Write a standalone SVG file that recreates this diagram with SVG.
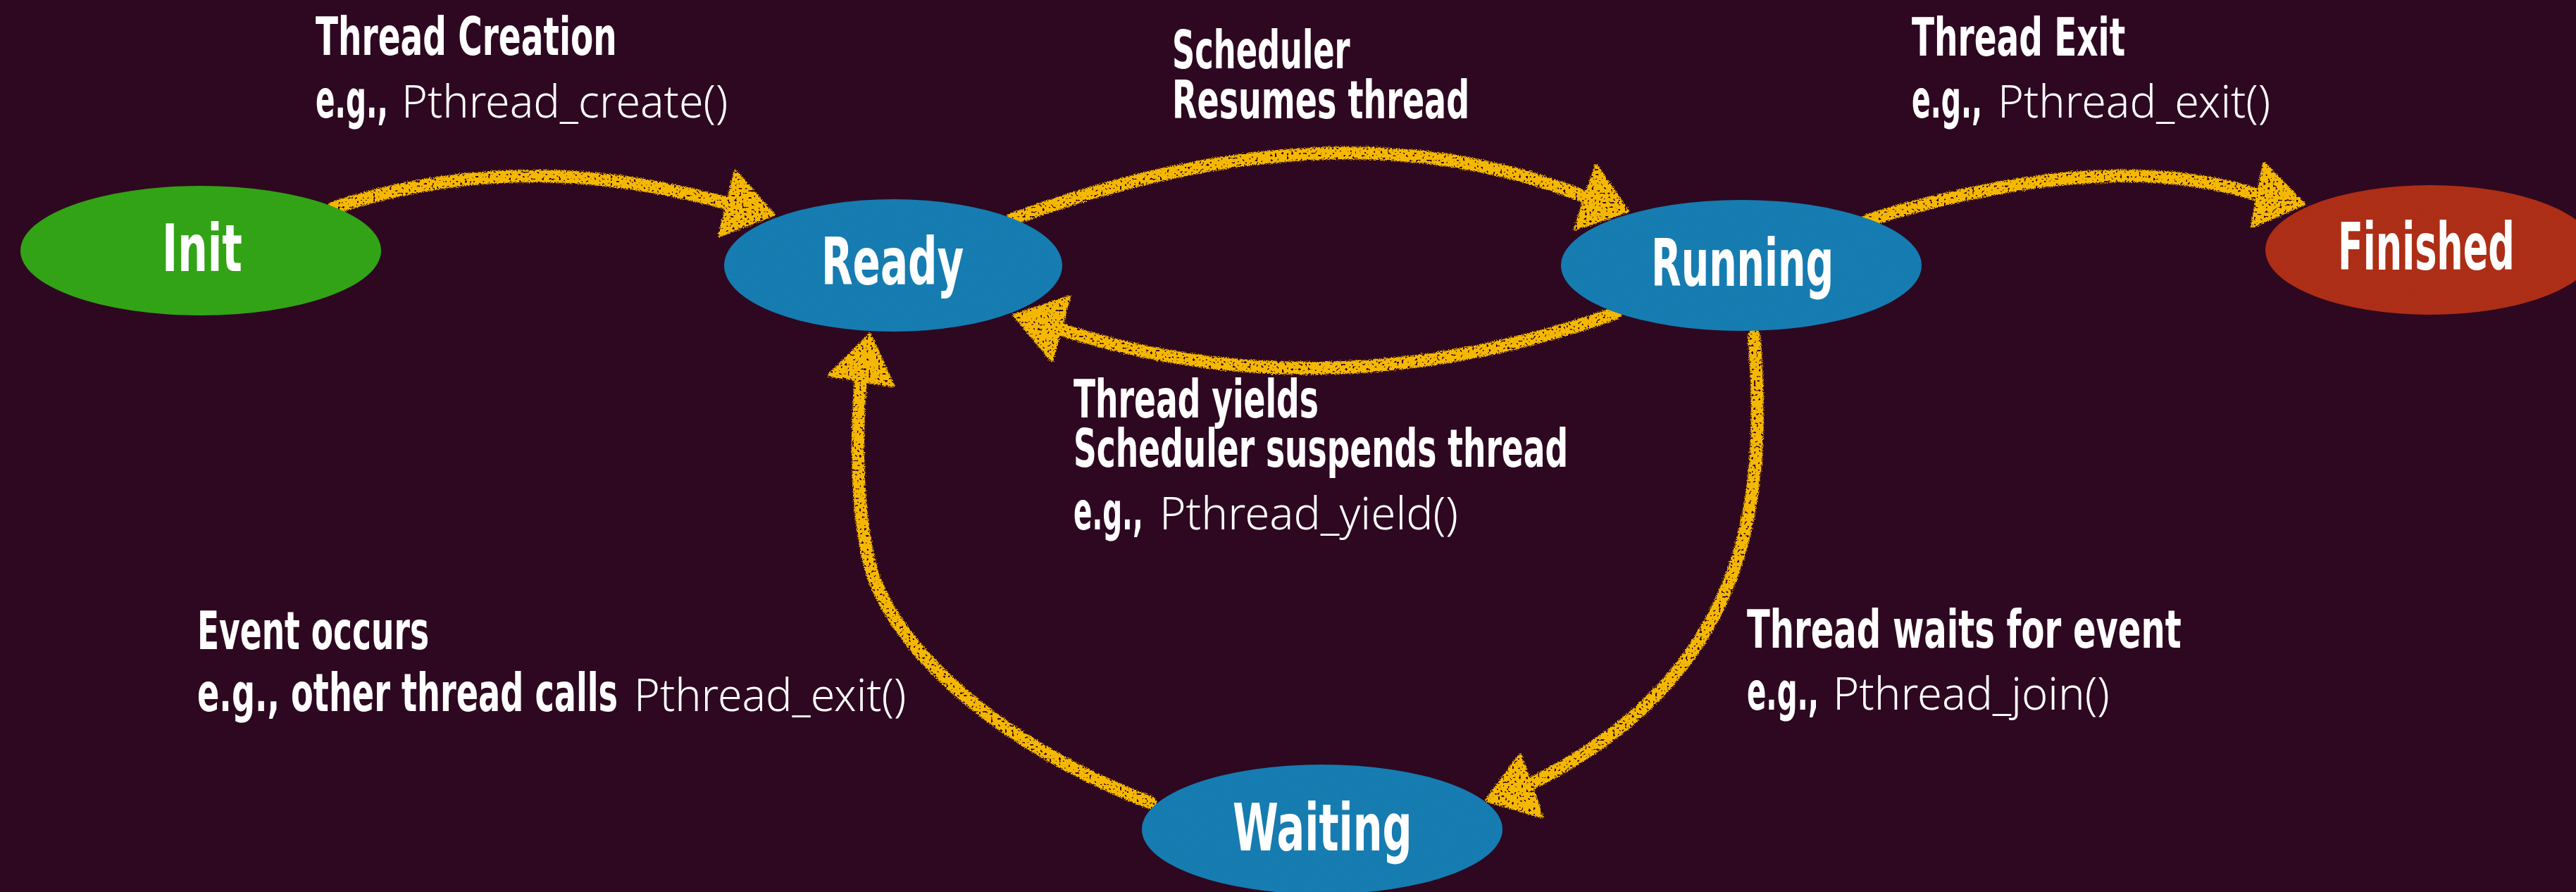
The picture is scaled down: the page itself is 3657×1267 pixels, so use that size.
<svg xmlns="http://www.w3.org/2000/svg" width="3657" height="1267" viewBox="0 0 3657 1267">
  <defs>
    <style>
      .bg { fill: #2e0820; }
      .state { stroke: none; filter: url(#paper); }
      .init { fill: #36a81f; }
      .active { fill: #1b80b6; }
      .done { fill: #b2321f; }
      .node-label { font-family: "DejaVu Sans Condensed", "DejaVu Sans", sans-serif; font-weight: bold; font-size: 92px; fill: #ffffff; }
      .label { font-family: "DejaVu Sans Condensed", "DejaVu Sans", sans-serif; font-weight: bold; font-size: 74px; fill: #ffffff; }
      .code { font-family: "Noto Sans", "Open Sans", sans-serif; font-weight: 300; font-size: 64px; fill: #ffffff; }
      .chalk-line { fill: none; stroke: #f5b800; stroke-width: 18; stroke-linecap: round; }
      .chalk-head { fill: #f5b800; stroke: #f5b800; stroke-width: 4; stroke-linejoin: round; }
      .connector { filter: url(#chalk); }
    </style>
    <!-- rough chalk edges with small specks knocked out -->
    <filter id="chalk" filterUnits="userSpaceOnUse" x="0" y="0" width="3657" height="1267">
      <feTurbulence type="fractalNoise" baseFrequency="0.8" numOctaves="2" seed="3" result="n"/>
      <feDisplacementMap in="SourceGraphic" in2="n" scale="7" xChannelSelector="R" yChannelSelector="G" result="d"/>
      <feTurbulence type="fractalNoise" baseFrequency="0.3" numOctaves="1" seed="11" result="n2"/>
      <feColorMatrix in="n2" type="matrix" values="0 0 0 0 0  0 0 0 0 0  0 0 0 0 0  14 0 0 0 -8.6" result="holes"/>
      <feComposite in="d" in2="holes" operator="out"/>
    </filter>
    <!-- faint paper grain on the state fills -->
    <filter id="paper" x="0" y="0" width="100%" height="100%">
      <feTurbulence type="fractalNoise" baseFrequency="0.6" numOctaves="2" seed="5" result="g"/>
      <feColorMatrix in="g" type="matrix" values="0 0 0 0 0  0 0 0 0 0  0 0 0 0 0  0 0 0 0.12 0" result="ga"/>
      <feComposite in="ga" in2="SourceGraphic" operator="in" result="gm"/>
      <feMerge><feMergeNode in="SourceGraphic"/><feMergeNode in="gm"/></feMerge>
    </filter>
  </defs>

  <rect class="bg" x="0" y="0" width="3657" height="1267"/>

  <!-- transitions -->
  <g id="connectors">
    <g id="init-ready" class="connector">
      <path class="chalk-line" d="M474,295 Q740,208 1032,289"/>
      <polygon class="chalk-head" points="1044,243 1098,305 1021,335"/>
    </g>
    <g id="ready-running" class="connector">
      <path class="chalk-line" d="M1436,312 Q1900,140 2251,280"/>
      <polygon class="chalk-head" points="2266,235 2311,300 2236,325"/>
    </g>
    <g id="running-finished" class="connector">
      <path class="chalk-line" d="M2651,313 Q2992,208 3205,277"/>
      <polygon class="chalk-head" points="3214,232 3271,290 3197,322"/>
    </g>
    <g id="running-ready" class="connector">
      <path class="chalk-line" d="M2293,445 Q1880,590 1500,466"/>
      <polygon class="chalk-head" points="1440,448 1518,422 1493,512"/>
    </g>
    <g id="running-waiting" class="connector">
      <path class="chalk-line" d="M2490,477 C2510,720 2480,960 2172,1114"/>
      <polygon class="chalk-head" points="2158,1072 2189,1160 2110,1137"/>
    </g>
    <g id="waiting-ready" class="connector">
      <path class="chalk-line" d="M1633,1140 C1450,1070 1290,950 1240,820 C1215,740 1215,620 1222,540"/>
      <polygon class="chalk-head" points="1235,475 1268,548 1177,533"/>
    </g>
  </g>

  <!-- states (labels use a narrowed bold face) -->
  <g id="node-init">
    <ellipse class="state init" cx="285" cy="356" rx="256" ry="92"/>
    <text class="node-label" transform="translate(230,385) scale(0.64,1)" textLength="178" lengthAdjust="spacingAndGlyphs">Init</text>
  </g>
  <g id="node-ready">
    <ellipse class="state active" cx="1268" cy="377" rx="240" ry="94"/>
    <text class="node-label" transform="translate(1166,404) scale(0.64,1)" textLength="316" lengthAdjust="spacingAndGlyphs">Ready</text>
  </g>
  <g id="node-running">
    <ellipse class="state active" cx="2472" cy="377" rx="256" ry="93"/>
    <text class="node-label" transform="translate(2344,406) scale(0.64,1)" textLength="405" lengthAdjust="spacingAndGlyphs">Running</text>
  </g>
  <g id="node-finished">
    <ellipse class="state done" cx="3450" cy="355" rx="234" ry="92"/>
    <text class="node-label" transform="translate(3319,383) scale(0.64,1)" textLength="392" lengthAdjust="spacingAndGlyphs">Finished</text>
  </g>
  <g id="node-waiting">
    <ellipse class="state active" cx="1877" cy="1178" rx="256" ry="92"/>
    <text class="node-label" transform="translate(1750,1208) scale(0.64,1)" textLength="398" lengthAdjust="spacingAndGlyphs">Waiting</text>
  </g>

  <!-- transition labels -->
  <g id="label-creation">
    <text class="label" transform="translate(448,78) scale(0.7,1)" textLength="611" lengthAdjust="spacingAndGlyphs">Thread Creation</text>
    <text class="label" transform="translate(448,167) scale(0.7,1)" textLength="147" lengthAdjust="spacingAndGlyphs">e.g.,</text>
    <text class="code" transform="translate(570,167) scale(0.94,1)" textLength="493" lengthAdjust="spacingAndGlyphs">Pthread_create()</text>
  </g>
  <g id="label-resume">
    <text class="label" transform="translate(1664,97) scale(0.7,1)" textLength="361" lengthAdjust="spacingAndGlyphs">Scheduler</text>
    <text class="label" transform="translate(1664,168) scale(0.7,1)" textLength="603" lengthAdjust="spacingAndGlyphs">Resumes thread</text>
  </g>
  <g id="label-exit">
    <text class="label" transform="translate(2714,79) scale(0.7,1)" textLength="433" lengthAdjust="spacingAndGlyphs">Thread Exit</text>
    <text class="label" transform="translate(2714,167) scale(0.7,1)" textLength="143" lengthAdjust="spacingAndGlyphs">e.g.,</text>
    <text class="code" transform="translate(2836,167) scale(0.94,1)" textLength="412" lengthAdjust="spacingAndGlyphs">Pthread_exit()</text>
  </g>
  <g id="label-yield">
    <text class="label" transform="translate(1524,593) scale(0.7,1)" textLength="497" lengthAdjust="spacingAndGlyphs">Thread yields</text>
    <text class="label" transform="translate(1524,663) scale(0.7,1)" textLength="1003" lengthAdjust="spacingAndGlyphs">Scheduler suspends thread</text>
    <text class="label" transform="translate(1524,752) scale(0.7,1)" textLength="141" lengthAdjust="spacingAndGlyphs">e.g.,</text>
    <text class="code" transform="translate(1646,752) scale(0.94,1)" textLength="451" lengthAdjust="spacingAndGlyphs">Pthread_yield()</text>
  </g>
  <g id="label-event">
    <text class="label" transform="translate(280,922) scale(0.7,1)" textLength="470" lengthAdjust="spacingAndGlyphs">Event occurs</text>
    <text class="label" transform="translate(280,1010) scale(0.7,1)" textLength="853" lengthAdjust="spacingAndGlyphs">e.g., other thread calls</text>
    <text class="code" transform="translate(900,1010) scale(0.94,1)" textLength="411" lengthAdjust="spacingAndGlyphs">Pthread_exit()</text>
  </g>
  <g id="label-wait">
    <text class="label" transform="translate(2480,920) scale(0.7,1)" textLength="881" lengthAdjust="spacingAndGlyphs">Thread waits for event</text>
    <text class="label" transform="translate(2480,1008) scale(0.7,1)" textLength="146" lengthAdjust="spacingAndGlyphs">e.g.,</text>
    <text class="code" transform="translate(2602,1008) scale(0.94,1)" textLength="418" lengthAdjust="spacingAndGlyphs">Pthread_join()</text>
  </g>
</svg>
